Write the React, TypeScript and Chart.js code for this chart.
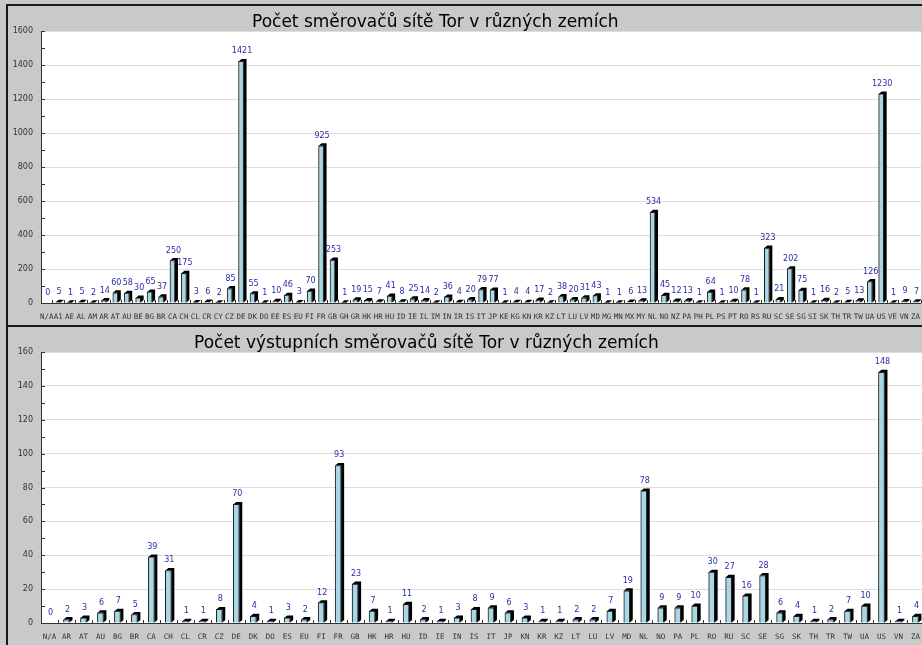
import React, { useEffect, useRef } from 'react';
import { Chart, registerables } from 'chart.js';

Chart.register(...registerables);

const topTitle = 'Počet směrovačů sítě Tor v různých zemích';
const topCategories = [
  'N/A', 'A1', 'AE', 'AL', 'AM', 'AR', 'AT', 'AU', 'BE', 'BG', 'BR', 'CA', 'CH', 'CL', 'CR', 'CY', 'CZ', 'DE', 'DK', 'DO',
  'EE', 'ES', 'EU', 'FI', 'FR', 'GB', 'GH', 'GR', 'HK', 'HR', 'HU', 'ID', 'IE', 'IL', 'IM', 'IN', 'IR', 'IS', 'IT', 'JP',
  'KE', 'KG', 'KN', 'KR', 'KZ', 'LT', 'LU', 'LV', 'MD', 'MG', 'MN', 'MX', 'MY', 'NL', 'NO', 'NZ', 'PA', 'PH', 'PL', 'PS',
  'PT', 'RO', 'RS', 'RU', 'SC', 'SE', 'SG', 'SI', 'SK', 'TH', 'TR', 'TW', 'UA', 'US', 'VE', 'VN', 'ZA',
];
const topValues = [
  0, 5, 1, 5, 2, 14, 60, 58, 30, 65, 37, 250, 175, 3, 6, 2, 85, 1421, 55, 1,
  10, 46, 3, 70, 925, 253, 1, 19, 15, 7, 41, 8, 25, 14, 2, 36, 4, 20, 79, 77,
  1, 4, 4, 17, 2, 38, 20, 31, 43, 1, 1, 6, 13, 534, 45, 12, 13, 1, 64, 1,
  10, 78, 1, 323, 21, 202, 75, 1, 16, 2, 5, 13, 126, 1230, 1, 9, 7,
];
const topYMax = 1600;
const topMajorStep = 200;
const topMinorStep = 100;

const bottomTitle = 'Počet výstupních směrovačů sítě Tor v různých zemích';
const bottomCategories = [
  'N/A', 'AR', 'AT', 'AU', 'BG', 'BR', 'CA', 'CH', 'CL', 'CR', 'CZ', 'DE', 'DK', 'DO', 'ES', 'EU', 'FI', 'FR', 'GB', 'HK',
  'HR', 'HU', 'ID', 'IE', 'IN', 'IS', 'IT', 'JP', 'KN', 'KR', 'KZ', 'LT', 'LU', 'LV', 'MD', 'NL', 'NO', 'PA', 'PL', 'RO',
  'RU', 'SC', 'SE', 'SG', 'SK', 'TH', 'TR', 'TW', 'UA', 'US', 'VN', 'ZA',
];
const bottomValues = [
  0, 2, 3, 6, 7, 5, 39, 31, 1, 1, 8, 70, 4, 1, 3, 2, 12, 93, 23, 7,
  1, 11, 2, 1, 3, 8, 9, 6, 3, 1, 1, 2, 2, 7, 19, 78, 9, 9, 10, 30,
  27, 16, 28, 6, 4, 1, 2, 7, 10, 148, 1, 4,
];
const bottomYMax = 160;
const bottomMajorStep = 20;
const bottomMinorStep = 10;

const BG = '#c9c9c9';
const BAR_FILL = '#a8d8e6';
const LABEL_BLUE = '#2b2ba8';

type PanelProps = {
  title: string;
  categories: string[];
  values: number[];
  yMax: number;
  major: number;
  minor: number;
  width: number;
  height: number;
  plotTop: number;
  xAxisHeight: number;
  frameTop: number;
  titleX: number;
  titleY: number;
  barThickness: number;
};

function Panel(p: PanelProps) {
  const ref = useRef<HTMLCanvasElement | null>(null);
  useEffect(() => {
    if (!ref.current) return;
    const plugin = {
      id: 'panelDeco',
      beforeDraw(chart: any) {
        const ctx = chart.ctx;
        const a = chart.chartArea;
        ctx.save();
        ctx.fillStyle = BG;
        ctx.fillRect(0, 0, chart.width, chart.height);
        ctx.fillStyle = '#ffffff';
        ctx.fillRect(a.left, a.top, a.right - a.left, a.bottom - a.top);
        ctx.fillStyle = '#1a1a1a';
        ctx.fillRect(6, p.frameTop, 2, chart.height - p.frameTop);
        ctx.fillRect(6, p.frameTop, chart.width, 2);
        ctx.fillStyle = '#000000';
        ctx.font = '17px "DejaVu Sans"';
        ctx.textAlign = 'left';
        ctx.textBaseline = 'alphabetic';
        ctx.fillText(p.title, p.titleX, p.titleY);
        ctx.restore();
      },
      beforeDatasetsDraw(chart: any) {
        const ctx = chart.ctx;
        const meta = chart.getDatasetMeta(0);
        const dx = 3;
        const dy = 2.5;
        ctx.save();
        ctx.fillStyle = '#000000';
        meta.data.forEach((bar: any, i: number) => {
          if (!p.values[i]) return;
          const { x, y, base, width } = bar.getProps(['x', 'y', 'base', 'width'], true);
          const L = x - width / 2;
          const R = x + width / 2;
          ctx.beginPath();
          ctx.moveTo(L, y);
          ctx.lineTo(L + dx, y - dy);
          ctx.lineTo(R + dx, y - dy);
          ctx.lineTo(R + dx, base - dy);
          ctx.lineTo(R, base);
          ctx.lineTo(R, y);
          ctx.closePath();
          ctx.fill();
        });
        ctx.restore();
      },
      afterDatasetsDraw(chart: any) {
        const ctx = chart.ctx;
        const a = chart.chartArea;
        const meta = chart.getDatasetMeta(0);
        ctx.save();
        // axes
        ctx.strokeStyle = '#333333';
        ctx.lineWidth = 1;
        ctx.beginPath();
        ctx.moveTo(Math.round(a.left) + 0.5, a.top);
        ctx.lineTo(Math.round(a.left) + 0.5, a.bottom);
        ctx.moveTo(a.left, Math.round(a.bottom) + 0.5);
        ctx.lineTo(a.right, Math.round(a.bottom) + 0.5);
        // y ticks (inward)
        const ys = chart.scales.y;
        ys.ticks.forEach((t: any) => {
          const py = Math.round(ys.getPixelForValue(t.value)) + 0.5;
          ctx.moveTo(a.left, py);
          ctx.lineTo(a.left + 4, py);
        });
        // x category boundary ticks
        const n = p.categories.length;
        const w = (a.right - a.left) / n;
        for (let i = 0; i <= n; i++) {
          const px = Math.round(a.left + i * w) + 0.5;
          ctx.moveTo(px, a.bottom);
          ctx.lineTo(px, a.bottom - 3);
        }
        ctx.stroke();
        // value labels
        ctx.fillStyle = LABEL_BLUE;
        ctx.font = '8px "DejaVu Sans"';
        ctx.textAlign = 'center';
        ctx.textBaseline = 'alphabetic';
        meta.data.forEach((bar: any, i: number) => {
          const { x, y } = bar.getProps(['x', 'y'], true);
          ctx.fillText(String(p.values[i]), x + 1, y - 8);
        });
        ctx.restore();
      },
    };
    const chart = new Chart(ref.current, {
      type: 'bar',
      data: {
        labels: p.categories,
        datasets: [
          {
            data: p.values,
            backgroundColor: BAR_FILL,
            borderColor: '#1a1a1a',
            borderWidth: 1,
            borderSkipped: 'bottom',
            barThickness: p.barThickness,
          },
        ],
      },
      options: {
        responsive: false,
        animation: false,
        devicePixelRatio: 1,
        layout: { padding: { top: p.plotTop, right: 6, left: 0, bottom: 0 } },
        plugins: { legend: { display: false }, tooltip: { enabled: false }, title: { display: false } },
        scales: {
          x: {
            grid: { display: false, drawTicks: false },
            border: { display: false },
            ticks: {
              autoSkip: false,
              maxRotation: 0,
              minRotation: 0,
              padding: 10,
              color: '#333333',
              font: { family: 'DejaVu Sans Mono', size: 7.5 },
            },
            afterFit: (s: any) => {
              s.height = p.xAxisHeight;
            },
          },
          y: {
            min: 0,
            max: p.yMax,
            grid: {
              drawTicks: false,
              color: (c: any) => (c.tick && c.tick.value % p.major === 0 && c.tick.value !== 0 ? '#dddddd' : 'rgba(0,0,0,0)'),
            },
            border: { display: false },
            ticks: {
              stepSize: p.minor,
              maxTicksLimit: 40,
              autoSkip: false,
              padding: 8,
              color: '#333333',
              font: { family: 'DejaVu Sans', size: 8 },
              callback: (v: any) => (Number(v) % p.major === 0 ? String(v) : ''),
            },
            afterFit: (s: any) => {
              s.width = 41;
            },
          },
        },
      },
      plugins: [plugin],
    } as any);
    return () => chart.destroy();
  }, []);
  return (
    <canvas
      ref={ref}
      width={p.width}
      height={p.height}
      style={{ display: 'block', width: p.width + 'px', height: p.height + 'px' }}
    />
  );
}

export default function App() {
  useEffect(() => {
    document.documentElement.style.overflow = 'hidden';
    document.body.style.margin = '0';
    document.body.style.overflow = 'hidden';
  }, []);
  return (
    <div style={{ position: 'relative', width: '930px', height: '645px', overflow: 'hidden', background: BG }}>
      <Panel
        title={topTitle}
        categories={topCategories}
        values={topValues}
        yMax={topYMax}
        major={topMajorStep}
        minor={topMinorStep}
        width={930}
        height={325}
        plotTop={31}
        xAxisHeight={22}
        frameTop={4}
        titleX={252}
        titleY={27}
        barThickness={5}
      />
      <Panel
        title={bottomTitle}
        categories={bottomCategories}
        values={bottomValues}
        yMax={bottomYMax}
        major={bottomMajorStep}
        minor={bottomMinorStep}
        width={930}
        height={320}
        plotTop={27}
        xAxisHeight={22}
        frameTop={0}
        titleX={194}
        titleY={23}
        barThickness={6}
      />
    </div>
  );
}
